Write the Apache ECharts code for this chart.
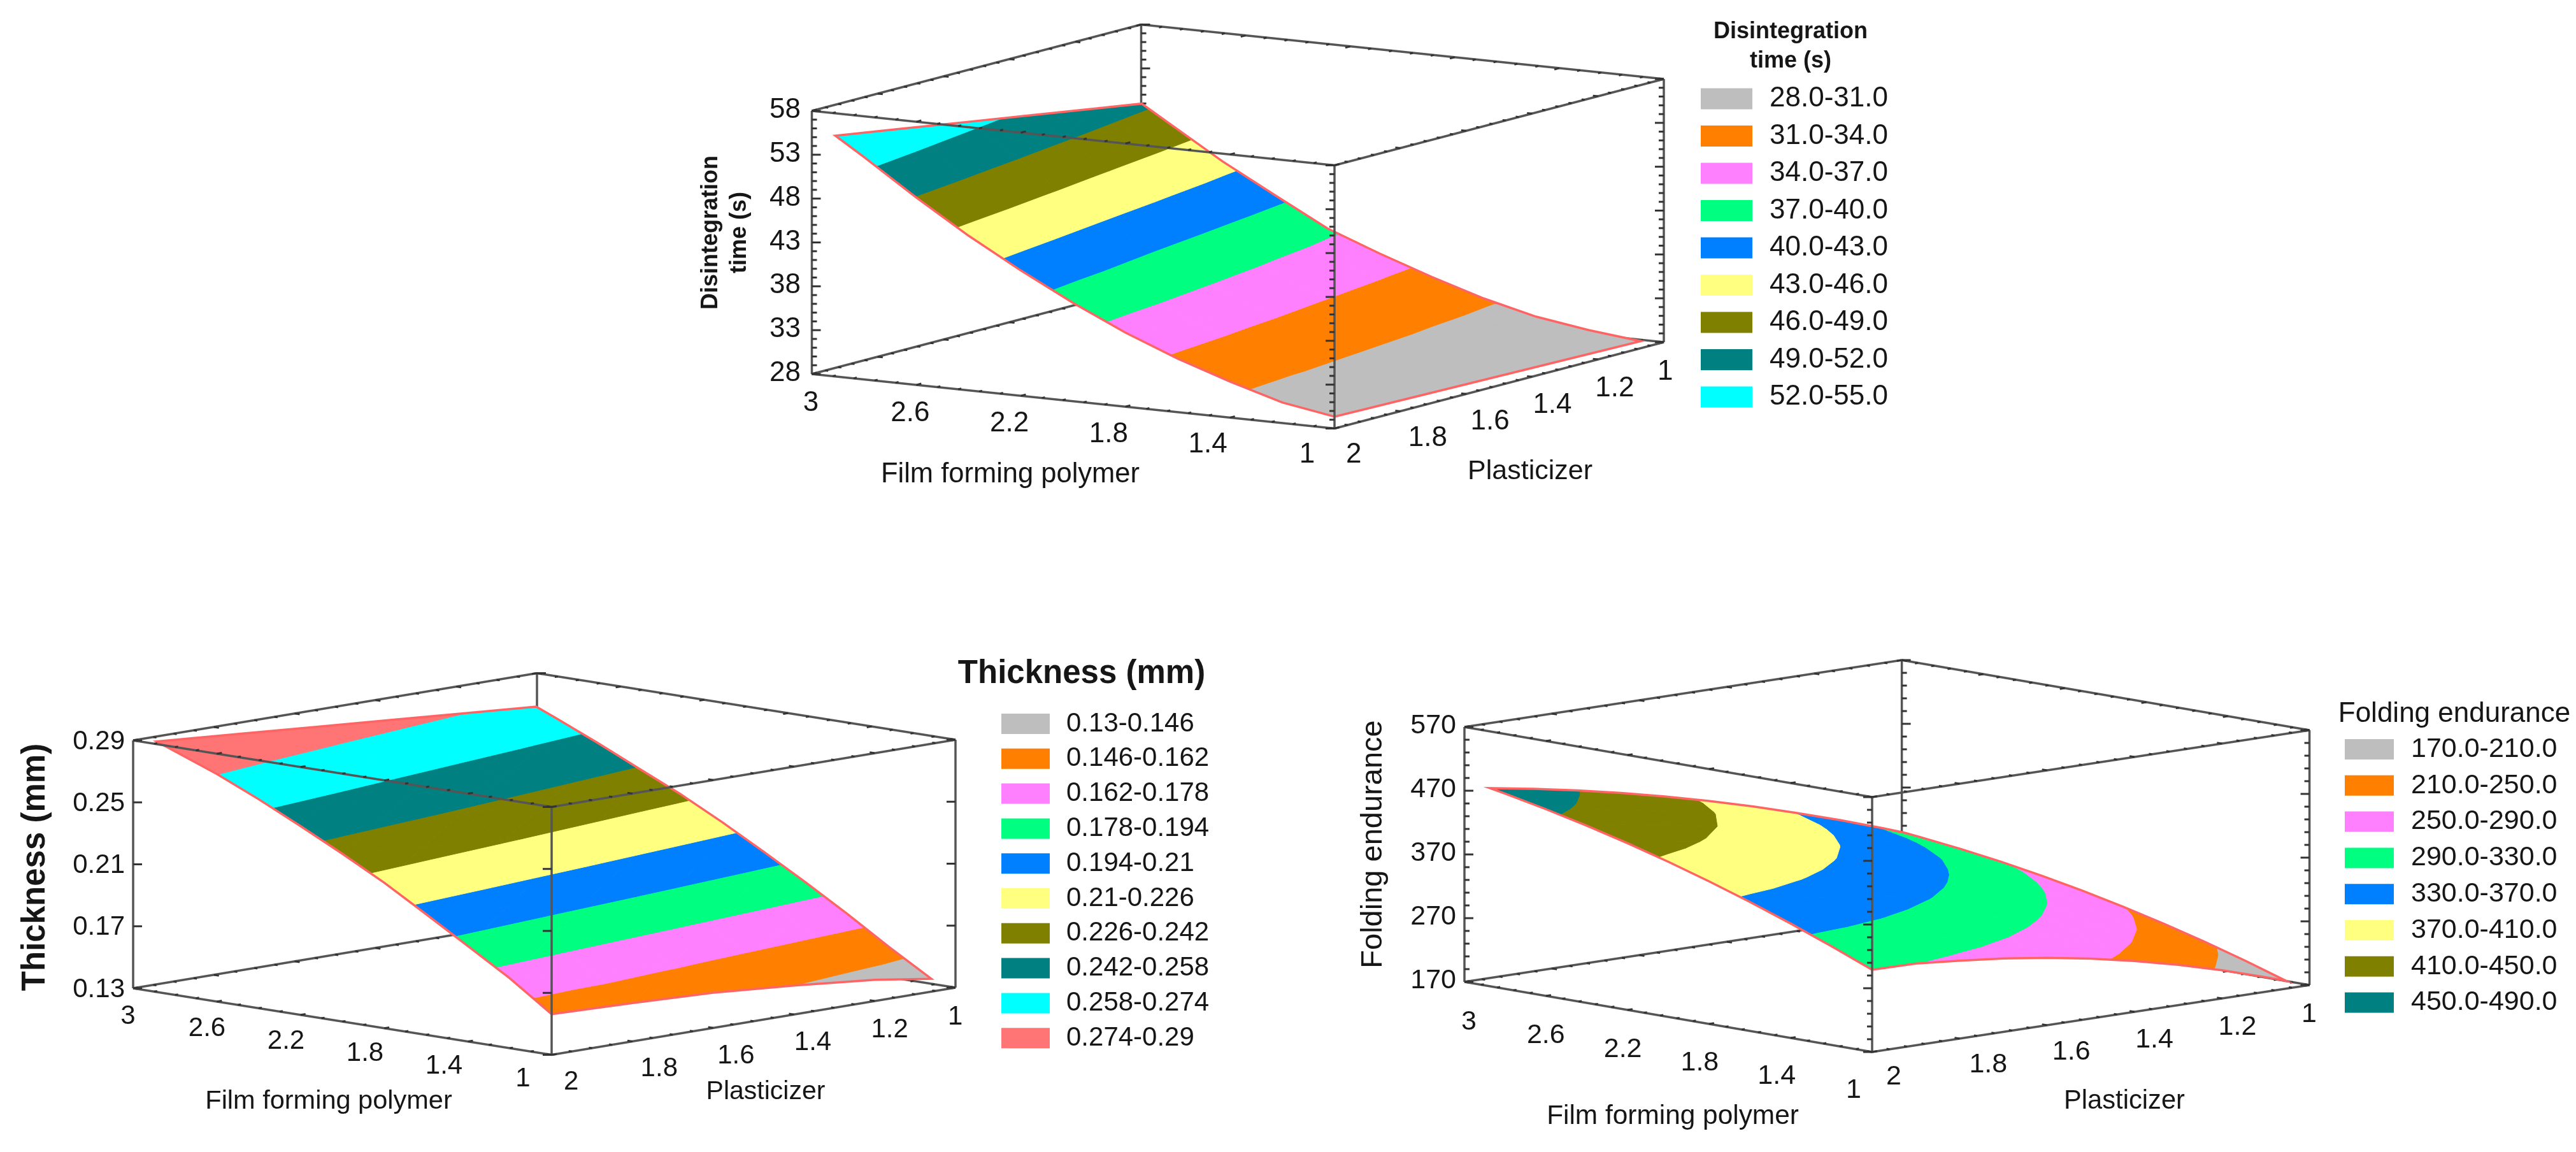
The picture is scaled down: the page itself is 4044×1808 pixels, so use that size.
<!DOCTYPE html>
<html>
<head>
<meta charset="utf-8">
<title>Response surfaces</title>
<style>html,body{margin:0;padding:0;background:#fff}#main{width:4044px;height:1808px}</style>
<script src="https://cdn.jsdelivr.net/npm/echarts@6/dist/echarts.min.js"></script>
</head>
<body>
<div id="main"></div>
<script>
// ---------- shared tick labels and colours ----------
const polymerTicks = [3, 2.6, 2.2, 1.8, 1.4, 1];
const plasticizerTicks = [2, 1.8, 1.6, 1.4, 1.2, 1];
const bandColors = ['#BEBEBE','#FF8000','#FF80FF','#00FF80','#0080FF','#FFFF80','#808000','#008080','#00FFFF','#FF7474'];

// ---------- disintegration time ----------
const disintegrationZTicks = [58, 53, 48, 43, 38, 33, 28];
const disintegrationBands = ['28.0-31.0','31.0-34.0','34.0-37.0','37.0-40.0','40.0-43.0','43.0-46.0','46.0-49.0','49.0-52.0','52.0-55.0'];
const disintegrationPolymer = [1, 1.2, 1.4, 1.6, 1.8, 2, 2.2, 2.4, 2.6, 2.8, 2.91];
const disintegrationPlasticizer = [2, 1.8, 1.6, 1.4, 1.2, 1.07];
const disintegrationSurface = [
  [28.9, 29.9, 31.65, 33.65, 36.0, 38.76, 41.83, 45.17, 48.9, 52.9, 55.0],
  [28.78, 29.71, 31.27, 33.16, 35.4, 38.01, 40.91, 44.2, 47.82, 51.74, 53.82],
  [28.66, 29.51, 30.9, 32.66, 34.8, 37.26, 39.98, 43.23, 46.75, 50.58, 52.63],
  [28.55, 29.32, 30.52, 32.17, 34.19, 36.5, 39.06, 42.27, 45.67, 49.42, 51.45],
  [28.43, 29.13, 30.15, 31.67, 33.59, 35.75, 38.13, 41.3, 44.6, 48.26, 50.27],
  [28.35, 29.0, 29.9, 31.35, 33.2, 35.25, 37.5, 40.65, 43.87, 47.5, 49.5]
];

// ---------- thickness ----------
const thicknessZTicks = [0.29, 0.25, 0.21, 0.17, 0.13];
const thicknessBands = ['0.13-0.146','0.146-0.162','0.162-0.178','0.178-0.194','0.194-0.21','0.21-0.226','0.226-0.242','0.242-0.258','0.258-0.274','0.274-0.29'];
const thicknessPolymer = [1, 1.2, 1.4, 1.6, 1.8, 2, 2.2, 2.4, 2.6, 2.8, 2.888];
const thicknessPlasticizer = [2, 1.8, 1.6, 1.4, 1.2, 1.06];
const thicknessSurface = [
  [0.1536, 0.1724, 0.1889, 0.2052, 0.2212, 0.2356, 0.2492, 0.2622, 0.2742, 0.2845, 0.289],
  [0.1520, 0.1680, 0.1846, 0.2009, 0.2168, 0.2313, 0.2449, 0.2578, 0.2699, 0.2805, 0.2851],
  [0.1500, 0.1636, 0.1803, 0.1966, 0.2123, 0.2270, 0.2407, 0.2534, 0.2656, 0.2765, 0.2812],
  [0.1460, 0.1592, 0.1760, 0.1923, 0.2079, 0.2227, 0.2364, 0.2490, 0.2613, 0.2725, 0.2773],
  [0.1410, 0.1548, 0.1717, 0.1880, 0.2035, 0.2184, 0.2321, 0.2446, 0.2570, 0.2685, 0.2734],
  [0.1356, 0.1517, 0.1688, 0.1849, 0.2004, 0.2153, 0.2292, 0.2415, 0.254, 0.2657, 0.2707]
];

// ---------- folding endurance ----------
const foldingZTicks = [570, 470, 370, 270, 170];
const foldingBands = ['170.0-210.0','210.0-250.0','250.0-290.0','290.0-330.0','330.0-370.0','370.0-410.0','410.0-450.0','450.0-490.0'];
const foldingPolymer = [1, 1.2, 1.4, 1.6, 1.8, 2, 2.2, 2.4, 2.6, 2.8, 2.875];
const foldingPlasticizer = [2, 1.9, 1.8, 1.7, 1.6, 1.5, 1.4, 1.3, 1.2, 1.1, 1.053];
const foldingSurface = [
  [291, 317.1, 341.6, 364.5, 385.8, 405.5, 423.6, 440.1, 455, 468.3, 472.9],
  [290.3, 314.0, 337.6, 359.7, 380.1, 398.9, 416.1, 431.7, 445.8, 458.2, 462.4],
  [284.2, 308.6, 331.5, 352.7, 372.3, 390.4, 406.8, 421.6, 434.9, 446.5, 450.5],
  [277.2, 300.9, 323.1, 343.6, 362.6, 379.9, 395.7, 409.8, 422.4, 433.3, 437],
  [267.8, 290.9, 312.5, 332.4, 350.8, 367.5, 382.7, 396.2, 408.2, 418.5, 422],
  [256.0, 278.7, 299.7, 319.2, 337.0, 353.3, 367.9, 381.0, 392.4, 402.3, 405.6],
  [241.8, 264.0, 284.7, 303.7, 321.2, 337.0, 351.3, 363.9, 375.0, 384.4, 387.6],
  [225.2, 247.1, 267.5, 286.2, 303.4, 318.9, 332.9, 345.2, 356.0, 365.1, 368.1],
  [206.3, 228.0, 248.2, 266.7, 283.6, 299.0, 312.7, 324.8, 335.4, 344.3, 347.3],
  [184.9, 206.5, 226.5, 245.0, 261.8, 277.0, 290.6, 302.6, 313.1, 321.9, 324.8],
  [174.0, 195.6, 215.6, 234.0, 250.8, 266.0, 279.6, 291.6, 302.0, 310.8, 313.7]
];

// ---------- layout of the three oblique boxes (pixels) ----------
const FONT = '"Liberation Sans"';
const TEXT = '#161616', LINE = '#555555', EDGE = '#FF6464';
const charts = [
  { polymer: disintegrationPolymer, plasticizer: disintegrationPlasticizer, surface: disintegrationSurface,
    bands: disintegrationBands, zTicks: disintegrationZTicks, zDecimals: 0,
    origin: [2095, 672.5], pVec: [-410.25, -42.75], qVec: [517, -135.5], zScale: 413 / 30, zLift: 0.45, zLiftFar: 0.45,
    zMinor: 1, zMajorEvery: 5, pqMinorEvery: 5,
    zLabelRight: 1257, zLabelDy: -1, tickFont: 44,
    pLabel: [[1273, 632.6], [2052, 714]], qLabel: [[2113, 714], [2602, 584]],
    pTitle: ['Film forming polymer', 1586, 745, 43.5], qTitle: ['Plasticizer', 2402, 740, 43],
    zTitle: ['Disintegration\ntime (s)', 1139, 365, 'bold 36px ' + FONT, 45],
    legTitle: ['Disintegration\ntime (s)', 2811, 73, 'bold 36px ' + FONT, 46],
    legend: { left: 2670, top: 133, itemWidth: 81, itemHeight: 33, itemGap: 14.5, fontSize: 44, gap: 27 } },
  { polymer: thicknessPolymer, plasticizer: thicknessPlasticizer, surface: thicknessSurface,
    bands: thicknessBands, zTicks: thicknessZTicks, zDecimals: 2,
    origin: [866, 1655.5], pVec: [-328.5, -52.25], qVec: [634, -105.5], zScale: 389 / 0.16, zLift: 0.0027, zLiftFar: 0.0027,
    zMinor: 0.04, zMajorEvery: 1, pqMinorEvery: 4,
    zLabelRight: 196, zLabelDy: 2, tickFont: 42,
    pLabel: [[201, 1595], [821, 1693]], qLabel: [[885, 1698], [1488, 1596]],
    pTitle: ['Film forming polymer', 516, 1729, 41.5], qTitle: ['Plasticizer', 1202, 1714, 41],
    zTitle: ['Thickness (mm)', 56, 1361, 'bold 51px ' + FONT, 51],
    legTitle: ['Thickness (mm)', 1698, 1058, 'bold 51px ' + FONT, 51],
    legend: { left: 1572, top: 1115, itemWidth: 76, itemHeight: 32, itemGap: 12.8, fontSize: 42, gap: 26 } },
  { polymer: foldingPolymer, plasticizer: foldingPlasticizer, surface: foldingSurface,
    bands: foldingBands, zTicks: foldingZTicks, zDecimals: 0,
    origin: [2939, 1651], pVec: [-320, -55], qVec: [686.6, -105], zScale: 1, zLift: 8, zLiftFar: -2,
    zMinor: 20, zMajorEvery: 5, pqMinorEvery: 5,
    zLabelRight: 2286, zLabelDy: -2, tickFont: 43,
    pLabel: [[2306, 1604], [2910, 1711]], qLabel: [[2961, 1690.5], [3613, 1592.6]],
    pTitle: ['Film forming polymer', 2626, 1752, 42.4], qTitle: ['Plasticizer', 3335, 1729, 41.7],
    zTitle: ['Folding endurance', 2156, 1325, '47px ' + FONT, 47],
    legTitle: ['Folding endurance', 3853, 1121, '44px ' + FONT, 44],
    legend: { left: 3681, top: 1154.5, itemWidth: 77, itemHeight: 32, itemGap: 13.8, fontSize: 43, gap: 27 } }
];

// ---------- projection ----------
function project(c, p, q, z) {
  const zMin = Math.min.apply(null, c.zTicks);
  return [c.origin[0] + c.pVec[0] * (p - 1) + c.qVec[0] * (2 - q),
          c.origin[1] + c.pVec[1] * (p - 1) + c.qVec[1] * (2 - q) - (z - zMin) * c.zScale];
}
function surfacePoint(c, p, q, z) {
  const pTop = c.polymer[c.polymer.length - 1], qBottom = c.plasticizer[c.plasticizer.length - 1];
  const blend = ((p - 1) / (pTop - 1)) * ((2 - q) / (2 - qBottom));
  return project(c, p, q, z + c.zLift + (c.zLiftFar - c.zLift) * blend);
}
function clipTriangle(poly, level, keepAbove) {
  const out = [];
  for (let i = 0; i < poly.length; i++) {
    const a = poly[i], b = poly[(i + 1) % poly.length];
    const ina = keepAbove ? a[2] >= level : a[2] <= level;
    const inb = keepAbove ? b[2] >= level : b[2] <= level;
    if (ina) out.push(a);
    if (ina !== inb) {
      const f = (level - a[2]) / (b[2] - a[2]);
      out.push([a[0] + f * (b[0] - a[0]), a[1] + f * (b[1] - a[1]), level]);
    }
  }
  return out;
}
function bandPolygons(c, idx) {
  const parts = c.bands[idx].split('-').map(Number);
  const lo = idx === 0 ? -Infinity : parts[0], hi = idx === c.bands.length - 1 ? Infinity : parts[1];
  const res = [];
  const P = c.polymer, Q = c.plasticizer, S = c.surface;
  for (let r = 0; r < Q.length - 1; r++) for (let k = 0; k < P.length - 1; k++) {
    const v00 = [P[k], Q[r], S[r][k]], v10 = [P[k + 1], Q[r], S[r][k + 1]];
    const v01 = [P[k], Q[r + 1], S[r + 1][k]], v11 = [P[k + 1], Q[r + 1], S[r + 1][k + 1]];
    [[v00, v10, v11], [v00, v11, v01]].forEach(function (tri) {
      let poly = tri;
      if (lo !== -Infinity) poly = clipTriangle(poly, lo, true);
      if (poly.length && hi !== Infinity) poly = clipTriangle(poly, hi, false);
      if (poly.length >= 3) res.push(poly);
    });
  }
  return res;
}
function textEl(text, x, y, font, align, lineHeight, rotate) {
  return { type: 'text', x: x, y: y, rotation: rotate ? Math.PI / 2 : 0, silent: true,
    style: { text: text, x: 0, y: 0, font: font, fill: TEXT, align: align, verticalAlign: 'middle', lineHeight: lineHeight } };
}
function boxElements(c, api, front) {
  const zs = c.zTicks, zMin = Math.min.apply(null, zs), zMax = Math.max.apply(null, zs);
  const pt = function (p, q, z) { return api.coord(project(c, p, q, z)); };
  const els = [];
  const seg = function (a, b, w, color) {
    els.push({ type: 'line', silent: true, shape: { x1: a[0], y1: a[1], x2: b[0], y2: b[1] }, style: { stroke: color || LINE, lineWidth: w } });
  };
  const backEdges = [[3,1,zMax,3,2,zMax],[3,1,zMax,1,1,zMax],[3,1,zMax,3,1,zMin],[3,1,zMin,3,2,zMin],[3,1,zMin,1,1,zMin]];
  const frontEdges = [[3,2,zMax,3,2,zMin],[3,2,zMax,1,2,zMax],[1,2,zMax,1,1,zMax],[1,2,zMax,1,2,zMin],[3,2,zMin,1,2,zMin],[1,2,zMin,1,1,zMin],[1,1,zMax,1,1,zMin]];
  (front ? frontEdges : backEdges).forEach(function (e) { seg(pt(e[0], e[1], e[2]), pt(e[3], e[4], e[5]), 3.5); });
  const unit = function (v) { const n = Math.hypot(v[0], v[1]); return [v[0] / n, v[1] / n]; };
  const pDir = unit(c.pVec), qDir = unit(c.qVec);
  // ticks on the upright edges
  const nz = Math.round((zMax - zMin) / c.zMinor);
  const uprights = front ? [[3, 2, 1], [1, 2, -1], [1, 1, -1]] : [[3, 1, 1]];
  uprights.forEach(function (u) {
    for (let i = 0; i <= nz; i++) {
      const a = pt(u[0], u[1], zMin + i * c.zMinor);
      const len = (i % c.zMajorEvery === 0) ? 14 : 8;
      seg(a, [a[0] + u[2] * len, a[1]], 3, '#333');
    }
  });
  // ticks on the polymer and plasticizer edges
  const zLevels = [zMin, zMax];
  const pqN = c.pqMinorEvery;
  zLevels.forEach(function (z) {
    (front ? [2] : [1]).forEach(function (q) {
      for (let i = 0; i <= 5 * pqN; i++) {
        const a = pt(1 + i * 2 / (5 * pqN), q, z);
        const len = i % pqN === 0 ? 8 : 5;
        const sgn = q === 2 ? 1 : -1;
        seg(a, [a[0] + sgn * qDir[0] * len, a[1] + sgn * qDir[1] * len], 3, '#333');
      }
    });
    (front ? [1] : [3]).forEach(function (p) {
      for (let i = 0; i <= 5 * pqN; i++) {
        const a = pt(p, 1 + i / (5 * pqN), z);
        const len = i % pqN === 0 ? 8 : 5;
        const sgn = p === 1 ? 1 : -1;
        seg(a, [a[0] + sgn * pDir[0] * len, a[1] + sgn * pDir[1] * len], 3, '#333');
      }
    });
  });
  if (front) {
    zs.forEach(function (v) {
      const a = pt(3, 2, v);
      els.push(textEl(v.toFixed(c.zDecimals), c.zLabelRight, a[1] + c.zLabelDy, c.tickFont + 'px ' + FONT, 'right'));
    });
    polymerTicks.forEach(function (v) {
      const f = (3 - v) / 2;
      const x = c.pLabel[0][0] + f * (c.pLabel[1][0] - c.pLabel[0][0]);
      const y = c.pLabel[0][1] + f * (c.pLabel[1][1] - c.pLabel[0][1]);
      els.push(textEl(String(v), x, y, c.tickFont + 'px ' + FONT, 'center'));
    });
    plasticizerTicks.forEach(function (v) {
      const f = 2 - v;
      const x = c.qLabel[0][0] + f * (c.qLabel[1][0] - c.qLabel[0][0]);
      const y = c.qLabel[0][1] + f * (c.qLabel[1][1] - c.qLabel[0][1]);
      els.push(textEl(String(v), x, y, c.tickFont + 'px ' + FONT, 'left'));
    });
    els.push(textEl(c.pTitle[0], c.pTitle[1], c.pTitle[2], c.pTitle[3] + 'px ' + FONT, 'center'));
    els.push(textEl(c.qTitle[0], c.qTitle[1], c.qTitle[2], c.qTitle[3] + 'px ' + FONT, 'center'));
    els.push(textEl(c.zTitle[0], c.zTitle[1], c.zTitle[2], c.zTitle[3], 'center', c.zTitle[4], true));
    els.push(textEl(c.legTitle[0], c.legTitle[1], c.legTitle[2], c.legTitle[3], 'center', c.legTitle[4]));
  }
  return els;
}
function customSeries(name, z, color, render) {
  return { type: 'custom', name: name, coordinateSystem: 'cartesian2d', xAxisIndex: 0, yAxisIndex: 0, z: z, silent: true,
    clip: false, animation: false, data: [[0, 0]], itemStyle: color ? { color: color } : undefined, renderItem: render };
}

const series = [], legends = [];
charts.forEach(function (c, ci) {
  series.push(customSeries('box-back-' + ci, 2, null, function (params, api) {
    return { type: 'group', children: boxElements(c, api, false) };
  }));
  c.bands.forEach(function (label, bi) {
    const polys = bandPolygons(c, bi), color = bandColors[bi];
    series.push(customSeries(label, 3, color, function (params, api) {
      return { type: 'group', children: polys.map(function (poly) {
        return { type: 'polygon', silent: true,
          shape: { points: poly.map(function (v) { return api.coord(surfacePoint(c, v[0], v[1], v[2])); }) },
          style: { fill: color, stroke: color, lineWidth: 1 } };
      }) };
    }));
  });
  series.push(customSeries('surface-edge-' + ci, 4, null, function (params, api) {
    const P = c.polymer, Q = c.plasticizer, S = c.surface, pts = [];
    const add = function (r, k) { pts.push(api.coord(surfacePoint(c, P[k], Q[r], S[r][k]))); };
    for (let k = 0; k < P.length; k++) add(0, k);
    for (let r = 1; r < Q.length; r++) add(r, P.length - 1);
    for (let k = P.length - 2; k >= 0; k--) add(Q.length - 1, k);
    for (let r = Q.length - 2; r > 0; r--) add(r, 0);
    return { type: 'polygon', silent: true, shape: { points: pts }, style: { fill: 'transparent', stroke: EDGE, lineWidth: 3.5 } };
  }));
  series.push(customSeries('box-front-' + ci, 5, null, function (params, api) {
    return { type: 'group', children: boxElements(c, api, true) };
  }));
  const L = c.legend;
  legends.push({ orient: 'vertical', left: L.left, top: L.top, padding: 0, selectedMode: false, icon: 'rect',
    itemWidth: L.itemWidth, itemHeight: L.itemHeight, itemGap: L.itemGap, data: c.bands,
    textStyle: { fontFamily: FONT, fontSize: L.fontSize, color: TEXT, padding: [0, 0, 0, L.gap - 5] } });
});

const chart = echarts.init(document.getElementById('main'), null, { width: 4044, height: 1808, renderer: 'canvas' });
chart.setOption({
  animation: false,
  backgroundColor: '#fff',
  grid: { left: 0, top: 0, width: 4044, height: 1808, show: false },
  xAxis: { type: 'value', min: 0, max: 4044, show: false },
  yAxis: { type: 'value', min: 0, max: 1808, inverse: true, show: false },
  legend: legends,
  series: series
});
</script>
</body>
</html>
